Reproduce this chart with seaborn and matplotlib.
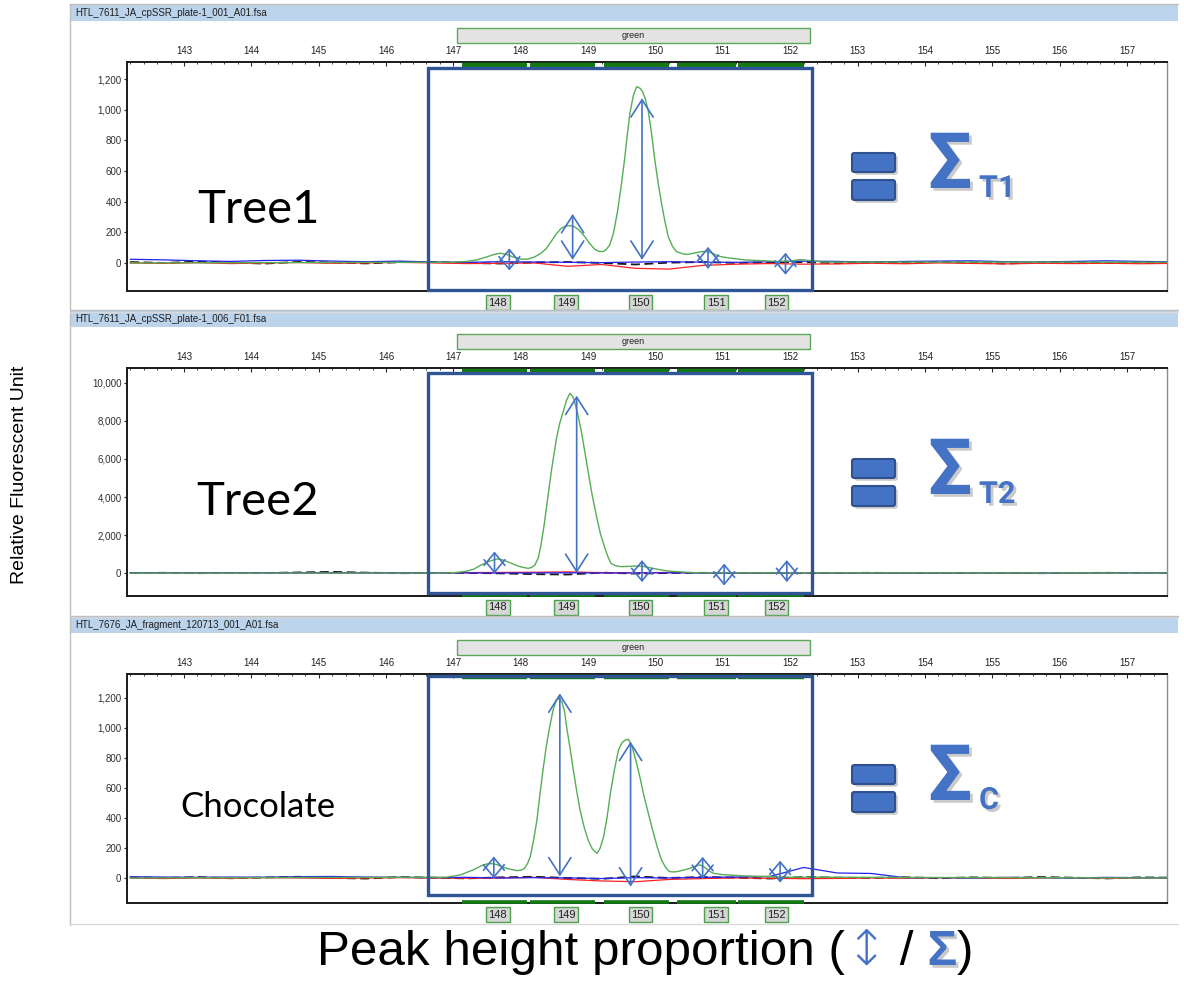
import numpy as np
import pandas as pd
import matplotlib
matplotlib.use("Agg")
import matplotlib.pyplot as plt
import matplotlib.transforms as mtransforms
from matplotlib import font_manager
from matplotlib import patheffects as pe
from matplotlib.patches import Rectangle, FancyBboxPatch
from matplotlib.ticker import MultipleLocator
import seaborn as sns

# ---------------------------------------------------------------- data
FILE_NAMES = [
    "HTL_7611_JA_cpSSR_plate-1_001_A01.fsa",
    "HTL_7611_JA_cpSSR_plate-1_006_F01.fsa",
    "HTL_7676_JA_fragment_120713_001_A01.fsa",
]
SAMPLE_NAMES = ["Tree1", "Tree2", "Chocolate"]
SIGMA_SUBS = ["T1", "T2", "C"]
DYE_NAME = "green"

SIZE_TICKS = [143, 144, 145, 146, 147, 148, 149, 150, 151, 152, 153, 154, 155, 156, 157]
Y_TICKS = [
    [0, 200, 400, 600, 800, 1000, 1200],
    [0, 2000, 4000, 6000, 8000, 10000],
    [0, 200, 400, 600, 800, 1000, 1200],
]
Y_LIMITS = [(-183, 1311), (-1210, 10789), (-167, 1360)]
X_LIMITS = (142.154, 157.594)

# allele bins (bp)
BIN_LABELS = ["148", "149", "150", "151", "152"]
BIN_CENTER = [147.66, 148.67, 149.78, 150.90, 151.80]
BIN_LO = [147.11, 148.11, 149.21, 150.30, 151.21]
BIN_HI = [148.11, 149.12, 150.22, 151.21, 152.22]
PANEL_RANGE = (147.05, 152.30)
WINDOW_RANGE = (146.62, 152.32)

# baseline channels (size in bp, RFU)
BASE_SIZE = [142.2, 142.7, 143.2, 143.7, 144.2, 144.7, 145.2, 145.7, 146.2, 146.7,
             147.2, 147.7, 148.2, 148.7, 149.2, 149.7, 150.2, 150.7, 151.2, 151.7,
             152.2, 152.7, 153.2, 153.7, 154.2, 154.7, 155.2, 155.7, 156.2, 156.7,
             157.2, 157.6]
B1_BLUE = [24, 20, 14, 10, 16, 18, 12, 8, 12, 6, 4, 8, 6, 4, 2, 6, 8, 5, 4, 8,
           12, 10, 6, 10, 12, 14, 8, 6, 10, 14, 10, 8]
B1_RED = [0, -3, 2, -4, 0, 3, -2, 0, 4, 0, -4, -2, 0, -22, -10, -35, -40, -16, -8, -4,
          -8, -6, -2, -5, 0, -3, -6, -2, -4, -2, -5, -3]
B1_BLACK = [6, 0, 9, 2, -4, 7, 3, -3, 5, 7, 0, -4, 3, 6, 0, -10, 2, 6, 0, 3,
            6, -2, 5, 0, 7, 2, -4, 3, 6, 0, 4, 2]
B2_BLUE = [20, 15, 10, 18, 12, 8, 15, 10, 5, 8, 5, 0, 5, 10, 0, 5, 10, 5, 0, 5,
           10, 5, 0, 8, 5, 10, 5, 0, 5, 10, 5, 5]
B2_RED = [0, 5, -5, 0, 10, 0, -5, 5, 0, 0, 20, 30, 40, 60, 20, 10, 30, 10, 0, -10,
          0, 5, 0, -5, 0, 5, 0, -5, 0, 5, 0, 0]
B2_BLACK = [0, 10, -10, 5, 0, 30, 60, 20, -10, 0, 10, -20, -60, -80, 20, -30, 0, 10, 0, 5,
            -10, 0, 10, 0, -5, 5, 0, -10, 0, 10, 0, 0]
B3_BLUE = [8, 6, 4, 6, 5, 8, 10, 6, 4, 2, 4, 0, 2, 0, -4, 2, 0, 4, 6, 10,
           70, 33, 30, 2, 2, 0, 4, 2, 0, 4, 2, 2]
B3_RED = [0, -4, 0, -2, 2, 0, -3, 0, 2, 0, -2, 0, 4, -10, -20, -25, -10, -4, 0, -2,
          -5, -3, 0, -2, 2, 0, -3, 0, 2, -2, 0, 0]
B3_BLACK = [4, 0, 6, -2, 3, 8, 0, -4, 6, 2, -3, 4, 8, 0, -6, 10, 0, 6, 2, -4,
            6, 2, 0, 5, -2, 4, 0, 6, 2, -3, 4, 2]

# green dye channel (size in bp, RFU)
G1_SIZE = [142.2, 147.0, 147.2, 147.35, 147.5, 147.6, 147.69, 147.78, 147.88, 148.0,
           148.1, 148.2, 148.30, 148.38, 148.45, 148.52, 148.60, 148.66, 148.72, 148.78,
           148.85, 148.90, 148.95, 149.02, 149.10, 149.16, 149.22, 149.27, 149.32, 149.38,
           149.44, 149.49, 149.54, 149.58, 149.62, 149.67, 149.72, 149.77, 149.81, 149.85,
           149.89, 149.94, 149.99, 150.04, 150.09, 150.14, 150.19, 150.25, 150.31, 150.40,
           150.48, 150.58, 150.68, 150.75, 150.82, 150.90, 150.97, 151.10, 151.32, 151.60,
           151.80, 152.00, 152.15, 152.30, 152.50, 157.6]
G1_RFU = [0, 5, 10, 20, 40, 55, 63, 58, 40, 25,
          25, 38, 63, 95, 139, 185, 226, 240, 243, 240,
          220, 198, 172, 128, 89, 76, 74, 88, 117, 200,
          346, 500, 672, 830, 976, 1090, 1150, 1140, 1117, 1070,
          998, 850, 672, 520, 389, 270, 172, 110, 74, 60,
          56, 65, 74, 75, 68, 52, 41, 32, 20, 14,
          10, 12, 22, 15, 6, 5]
G2_SIZE = [142.2, 146.9, 147.05, 147.2, 147.3, 147.41, 147.52, 147.64, 147.72, 147.80,
           147.88, 147.96, 148.04, 148.11, 148.16, 148.21, 148.26, 148.30, 148.35, 148.40,
           148.46, 148.53, 148.58, 148.63, 148.68, 148.73, 148.77, 148.80, 148.85, 148.90,
           148.95, 149.00, 149.06, 149.12, 149.18, 149.25, 149.30, 149.34, 149.40, 149.49,
           149.60, 149.69, 149.78, 149.85, 149.95, 150.09, 150.20, 150.33, 150.60, 157.6]
G2_RFU = [0, 0, 30, 100, 200, 421, 600, 737, 700, 600,
          480, 368, 290, 245, 290, 421, 800, 1474, 2600, 3930,
          5500, 7088, 7900, 8491, 9100, 9456, 9300, 9018, 8300, 7439,
          6400, 5333, 4100, 3053, 2100, 1298, 800, 509, 390, 333,
          350, 368, 360, 330, 250, 158, 100, 70, 10, 0]
G3_SIZE = [142.2, 146.9, 147.1, 147.29, 147.40, 147.49, 147.57, 147.65, 147.79, 147.94,
           148.00, 148.05, 148.10, 148.14, 148.19, 148.24, 148.28, 148.33, 148.38, 148.43,
           148.48, 148.53, 148.57, 148.61, 148.65, 148.68, 148.73, 148.78, 148.83, 148.88,
           148.94, 149.00, 149.06, 149.13, 149.18, 149.23, 149.28, 149.33, 149.39, 149.45,
           149.50, 149.55, 149.60, 149.65, 149.72, 149.77, 149.82, 149.90, 149.97, 150.03,
           150.09, 150.15, 150.21, 150.28, 150.35, 150.51, 150.60, 150.66, 150.72, 150.80,
           150.86, 151.00, 151.30, 152.00, 157.6]
G3_RFU = [0, 5, 20, 53, 78, 93, 96, 88, 64, 49,
          52, 62, 95, 142, 250, 387, 540, 720, 880, 1009,
          1120, 1187, 1195, 1176, 1110, 1009, 870, 720, 580, 453,
          340, 253, 195, 164, 200, 276, 400, 564, 720, 853,
          900, 920, 924, 880, 764, 670, 564, 420, 298, 200,
          120, 70, 42, 40, 45, 64, 80, 87, 75, 45,
          31, 22, 14, 5, 0]

# called peaks: size, baseline end, apex end (RFU)
PEAK_SIZE = [[148.77, 149.80], [148.83], [148.58, 149.63]]
PEAK_LOW = [[20, 20], [0], [10, -58]]
PEAK_HIGH = [[320, 1075], [9333], [1231, 909]]
# minor calls: size, centre RFU
MINOR_SIZE = [[147.83, 150.78, 151.93], [147.61, 149.80, 151.02, 151.95], [147.60, 150.70, 151.85]]
MINOR_RFU = [[23, 33, -5], [550, 100, -80, 100], [70, 67, 42]]

BASELINES = [(B1_BLUE, B1_RED, B1_BLACK), (B2_BLUE, B2_RED, B2_BLACK), (B3_BLUE, B3_RED, B3_BLACK)]
GREEN = [(G1_SIZE, G1_RFU), (G2_SIZE, G2_RFU), (G3_SIZE, G3_RFU)]

# ---------------------------------------------------------------- style
W, H = 1184, 992
sns.set_style("white")
plt.rcParams["font.family"] = ["Liberation Sans", "DejaVu Sans"]
_installed = {f.name for f in font_manager.fontManager.ttflist}
NARROW = "Liberation Sans Narrow" if "Liberation Sans Narrow" in _installed else "Liberation Sans"
LABEL_FONT = "Lato" if "Lato" in _installed else "DejaVu Sans"
SAMPLE_SIZE = [34, 34, 25]
SAMPLE_BASE = [161, 147, 143]

STRIP_BLUE = "#bcd3ec"
WINDOW_BLUE = "#2f5597"
ARROW_BLUE = "#4472c4"
SIGMA_BLUE = "#4472c4"
BIN_GREEN = "#137a13"
TRACE_GREEN = "#56ad56"
FRAME_GREY = "#bfbfbf"

fig = plt.figure(figsize=(W / 100, H / 100), dpi=100)
fig.patch.set_facecolor("white")


def fx(x):
    return x / W


def fy(y):
    return 1 - y / H


def fig_box(x0, y0, x1, y1, **kw):
    r = Rectangle((fx(x0), fy(y1)), (x1 - x0) / W, (y1 - y0) / H,
                  transform=fig.transFigure, **kw)
    fig.add_artist(r)
    return r


AX_LEFT, AX_RIGHT = 127, 1167
PANEL_TOP = [62, 368, 674]
PANEL_BOTTOM = [291, 596, 903]
WINDOW_Y = [(0.004, 0.974), (0.013, 0.978), (0.035, 0.991)]

# outer frame line on the left
fig.add_artist(plt.Line2D([fx(70), fx(70)], [fy(4), fy(925)], transform=fig.transFigure,
                          color=FRAME_GREY, lw=1))

for i in range(3):
    top, bot = PANEL_TOP[i], PANEL_BOTTOM[i]
    ax_h = bot - top
    ax = fig.add_axes([fx(AX_LEFT), fy(bot), (AX_RIGHT - AX_LEFT) / W, ax_h / H])
    ax.set_facecolor("white")
    ax.set_xlim(*X_LIMITS)
    ax.set_ylim(*Y_LIMITS[i])

    # title strip and panel separators
    fig_box(70, top - 57, 1178, top - 41, facecolor=STRIP_BLUE, edgecolor="none")
    fig.add_artist(plt.Line2D([fx(70), fx(1178)], [fy(top - 58), fy(top - 58)],
                              transform=fig.transFigure, color=FRAME_GREY, lw=1))
    fig.text(fx(75), fy(top - 49), FILE_NAMES[i], fontsize=7, family=NARROW,
             color="#202020", va="center", ha="left")
    fig.add_artist(plt.Line2D([fx(70), fx(1178)], [fy(bot + 21), fy(bot + 21)],
                              transform=fig.transFigure, color="#d9d9d9", lw=1))

    # baselines of the other dye channels
    blue, red, black = BASELINES[i]
    sns.lineplot(x=BASE_SIZE, y=black, ax=ax, color="#1a1a1a", lw=1.3,
                 linestyle=(0, (5, 2.5)), sort=False)
    sns.lineplot(x=BASE_SIZE, y=red, ax=ax, color="#ff2020", lw=0.9, sort=False)
    sns.lineplot(x=BASE_SIZE, y=blue, ax=ax, color="#2222ee", lw=0.9, sort=False)
    # green channel
    gs, gr = GREEN[i]
    sns.lineplot(x=gs, y=gr, ax=ax, color=TRACE_GREEN, lw=1.0, sort=False)

    blend = mtransforms.blended_transform_factory(ax.transData, ax.transAxes)

    # bins along the top and bottom edges
    for lo, hi in zip(BIN_LO, BIN_HI):
        ax.plot([lo + 0.02, hi - 0.02], [1 - 2.5 / ax_h] * 2, transform=blend,
                color=BIN_GREEN, lw=3.2, solid_capstyle="butt", clip_on=False, zorder=5)
        ax.plot([lo + 0.02, hi - 0.02], [1.5 / ax_h] * 2, transform=blend,
                color=BIN_GREEN if i else "#7fbf7f", lw=2.6 if i else 1.0,
                solid_capstyle="butt", clip_on=False, zorder=5)

    # dye header above the size ruler
    ax.add_patch(Rectangle((PANEL_RANGE[0], 1 + 19 / ax_h), PANEL_RANGE[1] - PANEL_RANGE[0],
                           15 / ax_h, transform=blend, facecolor="#e3e3e3",
                           edgecolor="#5aa85a", lw=1, clip_on=False))
    ax.text(sum(PANEL_RANGE) / 2, 1 + 26.5 / ax_h, DYE_NAME, transform=blend,
            ha="center", va="center", fontsize=6.5, family=NARROW, color="#202020")

    # bin labels below the axis
    for lab, cx in zip(BIN_LABELS, BIN_CENTER):
        ax.text(cx, -11.5 / ax_h, lab, transform=blend, ha="center", va="center",
                fontsize=8, family=NARROW, color="#202020", clip_on=False,
                bbox=dict(boxstyle="square,pad=0.22", fc="#d6d6d6", ec="#4ea24e", lw=1))

    # analysis window
    ax.add_patch(Rectangle((WINDOW_RANGE[0], WINDOW_Y[i][0]), WINDOW_RANGE[1] - WINDOW_RANGE[0],
                           WINDOW_Y[i][1] - WINDOW_Y[i][0], transform=blend, fill=False,
                           edgecolor=WINDOW_BLUE, lw=2.4, clip_on=False, zorder=6))

    # peak height arrows
    for px, lo, hi in zip(PEAK_SIZE[i], PEAK_LOW[i], PEAK_HIGH[i]):
        ax.annotate("", xy=(px, hi), xytext=(px, lo), xycoords="data",
                    arrowprops=dict(arrowstyle="<->,head_length=1.25,head_width=0.8",
                                    color=ARROW_BLUE, lw=1.2, shrinkA=0, shrinkB=0,
                                    mutation_scale=10), zorder=7)
    half = 11 / ax_h * (Y_LIMITS[i][1] - Y_LIMITS[i][0])
    for px, c in zip(MINOR_SIZE[i], MINOR_RFU[i]):
        ax.annotate("", xy=(px, c + half), xytext=(px, c - half), xycoords="data",
                    arrowprops=dict(arrowstyle="<->,head_length=0.9,head_width=0.75",
                                    color=ARROW_BLUE, lw=1.2, shrinkA=0, shrinkB=0,
                                    mutation_scale=10), zorder=7)

    # axes, ticks, spines
    ax.xaxis.set_ticks_position("top")
    ax.set_xticks(SIZE_TICKS)
    ax.set_xticklabels([str(t) for t in SIZE_TICKS], family=NARROW)
    ax.xaxis.set_minor_locator(MultipleLocator(0.2))
    ax.tick_params(axis="x", which="major", direction="in", length=3, width=0.8,
                   pad=4, labelsize=7, labelcolor="#202020", top=True, bottom=False)
    ax.tick_params(axis="x", which="minor", direction="in", length=1.5, width=0.6,
                   top=True, bottom=False)
    ax.set_yticks(Y_TICKS[i])
    ax.set_yticklabels([f"{v:,}" for v in Y_TICKS[i]], family=NARROW)
    ax.tick_params(axis="y", direction="out", length=2.5, width=0.8, pad=1.5,
                   labelsize=7, labelcolor="#303030", left=True)
    ax.set_xlabel("")
    ax.set_ylabel("")
    for side in ("left", "top", "bottom"):
        ax.spines[side].set_color("#1a1a1a")
        ax.spines[side].set_linewidth(1.4)
    ax.spines["right"].set_color("#8c8c8c")
    ax.spines["right"].set_linewidth(1.0)

    # sample name
    fig.text(fx(258), fy(top + SAMPLE_BASE[i]), SAMPLE_NAMES[i], fontsize=SAMPLE_SIZE[i],
             family=LABEL_FONT, color="black", ha="center", va="baseline")

    # "= Σ" marker
    shadow = [pe.withSimplePatchShadow(offset=(2, -2), shadow_rgbFace="#8a8a8a", alpha=0.45)]
    for y0, y1 in ((top + 91, top + 110), (top + 118, top + 138)):
        bar = FancyBboxPatch((fx(852), fy(y1)), (895 - 852) / W, (y1 - y0) / H,
                             boxstyle="round,pad=0,rounding_size=0.002",
                             transform=fig.transFigure, facecolor=SIGMA_BLUE,
                             edgecolor="#2f528f", lw=1.5, path_effects=shadow)
        fig.add_artist(bar)
    fig.text(fx(928), fy(top + 126), "Σ", fontsize=56, fontweight="bold",
             family=["Roboto", "DejaVu Sans"], color=SIGMA_BLUE, ha="left", va="baseline",
             path_effects=shadow)
    fig.text(fx(979), fy(top + 135), SIGMA_SUBS[i], fontsize=22, fontweight="bold",
             family=["Roboto", "DejaVu Sans"], color=SIGMA_BLUE, ha="left", va="baseline",
             path_effects=shadow)

fig_box(70, 924, 1178, 925, facecolor="#d9d9d9", edgecolor="none")

# axis titles
fig.text(fx(20), fy(475), "Relative Fluorescent Unit", rotation=90, fontsize=14,
         ha="center", va="center", color="black")

renderer = fig.canvas.get_renderer()
base_y = fy(965)
pieces = [
    ("Peak height proportion (", dict(color="black")),
    ("\u2195", dict(color=ARROW_BLUE, family=["DejaVu Sans"], fontweight="light")),
    (" / ", dict(color="black")),
    ("Σ", dict(color=SIGMA_BLUE, fontweight="bold",
               path_effects=[pe.withSimplePatchShadow(offset=(2, -2), shadow_rgbFace="#8a8a8a",
                                                      alpha=0.45)])),
    (")", dict(color="black")),
]
xcur = fx(317)
for txt, kw in pieces:
    t = fig.text(xcur, base_y, txt, fontsize=35.6, ha="left", va="baseline", **kw)
    bb = t.get_window_extent(renderer=renderer)
    xcur = bb.x1 / W

fig.savefig("out.png", dpi=100, facecolor="white")
